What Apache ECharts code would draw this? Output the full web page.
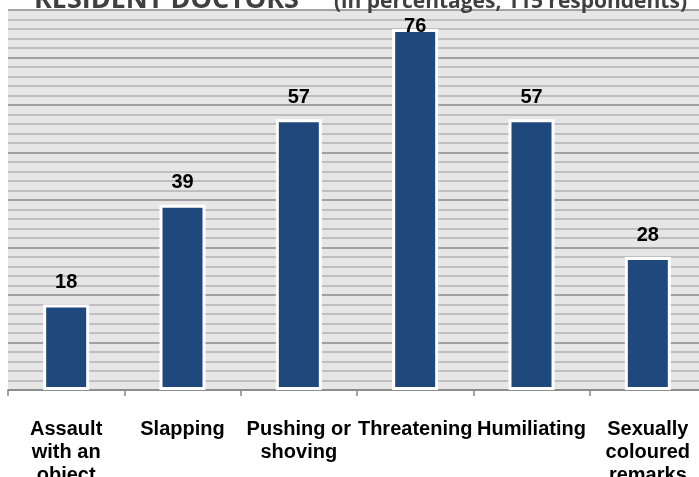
<!DOCTYPE html>
<html><head><meta charset="utf-8">
<script src="https://cdn.jsdelivr.net/npm/echarts@6/dist/echarts.min.js"></script>
<style>html,body{margin:0;padding:0;background:#fff;}#c{width:699px;height:477px;}</style>
</head><body><div id="c"></div>
<script>
var titleMain = 'RESIDENT DOCTORS';
var titleSub = '(in percentages, 115 respondents)';
var categories = ['Assault\nwith an\nobject', 'Slapping', 'Pushing or\nshoving', 'Threatening', 'Humiliating', 'Sexually\ncoloured\nremarks'];
var values = [18, 39, 57, 76, 57, 28];
var yMin = 0, yMax = 80, yStep = 10;

var chart = echarts.init(document.getElementById('c'), null, {renderer: 'canvas'});
var barData = values.map(function (v) {
  // label that would overflow the plot top is pulled down onto the bar, as in the source
  return v > yMax - 6 ? {value: v, label: {position: 'top', distance: -7}} : v;
});
chart.setOption({
  animation: false,
  backgroundColor: '#ffffff',
  graphic: [
    {type: 'text', left: 34, top: -13, z: 10,
     style: {text: titleMain, font: 'bold 27px "Open Sans"', fill: '#404040'}},
    {type: 'text', right: 12, top: -8, z: 10,
     style: {text: titleSub, font: 'bold 21px "Open Sans"', fill: '#404040'}}
  ],
  grid: {left: 8, right: -7, top: 10, bottom: 87, show: true, backgroundColor: '#e6e6e6', borderWidth: 0, outerBoundsMode: 'none', containLabel: false},
  xAxis: {
    type: 'category',
    data: categories,
    axisLine: {lineStyle: {color: '#868686', width: 1.5}},
    axisTick: {show: true, length: 6, alignWithLabel: false, lineStyle: {color: '#868686', width: 1.5}},
    axisLabel: {interval: 0, margin: 28, hideOverlap: false, fontFamily: 'Liberation Sans', fontWeight: 'bold', fontSize: 20, lineHeight: 23, color: '#000', align: 'center', verticalAlign: 'top'}
  },
  yAxis: {
    type: 'value', min: yMin, max: yMax, interval: yStep,
    axisLabel: {show: false}, axisLine: {show: false}, axisTick: {show: false},
    splitLine: {show: true, lineStyle: {color: '#8a8a8a', width: 1.5}},
    minorTick: {show: false, splitNumber: 5},
    minorSplitLine: {show: true, lineStyle: {color: '#b2b2b2', width: 1.5}}
  },
  series: [{
    type: 'bar',
    data: barData,
    barWidth: 46,
    itemStyle: {color: '#1f497d', borderColor: '#ffffff', borderWidth: 3},
    label: {show: true, position: 'top', distance: 12, fontFamily: 'Liberation Sans', fontWeight: 'bold', fontSize: 20, color: '#000'}
  }]
});
</script></body></html>
